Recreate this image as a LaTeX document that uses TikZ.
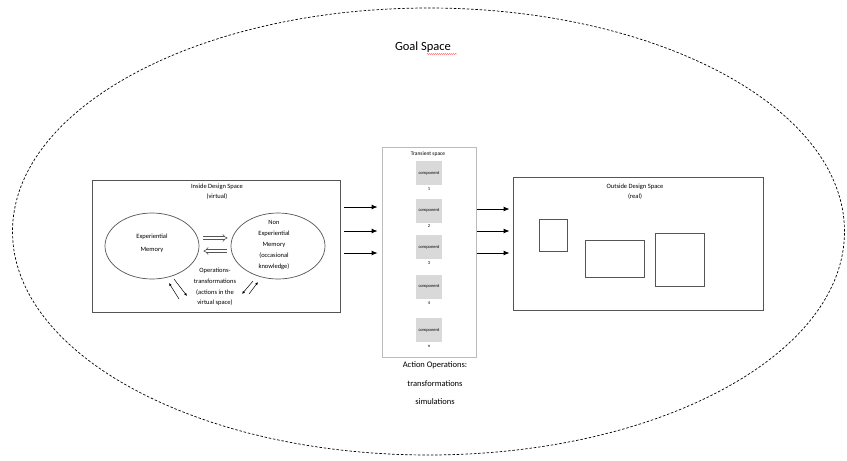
\documentclass[tikz,border=0pt]{standalone}
\usepackage{fontspec}
\setmainfont{Carlito}
\usetikzlibrary{arrows.meta,shapes.geometric,decorations.pathmorphing}
\definecolor{boxline}{HTML}{555555}
\definecolor{lightline}{HTML}{BBBBBB}
\definecolor{compfill}{HTML}{D9D9D9}
\tikzset{
  spacebox/.style={draw=boxline, line width=0.9pt, fill=white},
  memory/.style={draw=boxline, line width=0.7pt, ellipse, minimum width=94pt, minimum height=66pt, inner sep=0pt},
  compbox/.style={fill=compfill, minimum width=26pt, minimum height=24pt, inner sep=0pt, font=\fontsize{4.5}{5}\selectfont},
  compnum/.style={font=\fontsize{4.5}{5}\selectfont, inner sep=0pt},
  bigarrow/.style={line width=0.9pt, -{Latex[length=6pt,width=5pt]}},
  smallarrow/.style={line width=0.5pt, -{Latex[length=3pt,width=2.5pt]}},
  hollow/.style={draw=boxline, double=white, double distance=2pt, line width=0.6pt, -{Implies}},
  label7/.style={font=\fontsize{7}{10.5}\selectfont, align=center, inner sep=0pt},
  realbox/.style={draw=boxline, line width=0.7pt},
}
\begin{document}
\begin{tikzpicture}[x=1pt,y=-1pt]
\useasboundingbox (0,0) rectangle (847,461);
% goal space ellipse
\node[draw, dashed, ellipse, line width=0.7pt, dash pattern=on 2.5pt off 1.8pt, minimum width=832pt, minimum height=447pt] (goal) at (428.5,231.5) {};
\node[font=\fontsize{12.5}{14}\selectfont, inner sep=0pt] (goaltext) at (423,47) {Goal Space};
\draw[red!70, line width=0.4pt, decorate, decoration={snake, amplitude=0.5pt, segment length=2pt}] (427,54) -- (457,54);

% inside design space
\node[spacebox, minimum width=248pt, minimum height=132pt, inner sep=0pt] (inside) at (216,246) {};
\node[label7, font=\fontsize{6.5}{10}\selectfont] (insidetext) at (217,192) {Inside Design Space\\(virtual)};
\node[memory] (exp) at (152,246) {};
\node[label7, font=\fontsize{6.5}{13}\selectfont] (exptext) at (152,243) {Experiential\\Memory};
\node[memory] (nonexp) at (278,246) {};
\node[label7, font=\fontsize{6.5}{11}\selectfont] (nonexptext) at (274,245) {Non\\Experiential\\Memory\\(occasional\\knowledge)};
\draw[hollow] ([xshift=4pt,yshift=8pt]exp.east) -- ([xshift=-3pt,yshift=8pt]nonexp.west);
\draw[hollow] ([xshift=-4pt,yshift=-5pt]nonexp.west) -- ([xshift=4pt,yshift=-5pt]exp.east);
\node[label7, font=\fontsize{6.5}{10.7}\selectfont] (optext) at (215,287) {Operations-\\transformations\\(actions in the\\virtual space)};
\coordinate (la1) at (179,299); \coordinate (la2) at (169,283);
\coordinate (lb1) at (174,279); \coordinate (lb2) at (187,296);
\coordinate (rc1) at (253,281); \coordinate (rc2) at (242,294);
\coordinate (rd1) at (249,294); \coordinate (rd2) at (258,282);
\draw[smallarrow] (la1) -- (la2);
\draw[smallarrow] (lb1) -- (lb2);
\draw[smallarrow] (rc1) -- (rc2);
\draw[smallarrow] (rd1) -- (rd2);

% transient space
\node[draw=lightline, line width=0.8pt, minimum width=94pt, minimum height=210pt, inner sep=0pt] (trans) at (429,252) {};
\node[font=\fontsize{5.5}{6}\selectfont, inner sep=0pt] (transtext) at (428,154) {Transient space};
\node[compbox] (c1) at (429,173) {component};
\node[compnum] (n1) at (429,189) {1};
\node[compbox] (c2) at (429,210.5) {component};
\node[compnum] (n2) at (429,226) {2};
\node[compbox] (c3) at (429,247) {component};
\node[compnum] (n3) at (429,263) {3};
\node[compbox] (c4) at (429,286.5) {component};
\node[compnum] (n4) at (429,303) {4};
\node[compbox] (c5) at (429,330) {component};
\node[compnum] (n5) at (429,346) {n};
\node[font=\fontsize{8.5}{18.5}\selectfont, align=center, inner sep=0pt] (action) at (435,383.5) {Action Operations:\\transformations\\simulations};

% outside design space
\node[spacebox, minimum width=250pt, minimum height=133pt, inner sep=0pt] (outside) at (638,243.5) {};
\node[label7, font=\fontsize{6.5}{10}\selectfont] (outsidetext) at (635,192) {Outside Design Space\\(real)};
\node[realbox, minimum width=28pt, minimum height=32pt, inner sep=0pt] (r1) at (553,235) {};
\node[realbox, minimum width=59pt, minimum height=37pt, inner sep=0pt] (r2) at (614.5,258.5) {};
\node[realbox, minimum width=49pt, minimum height=53pt, inner sep=0pt] (r3) at (679.5,259.5) {};

% arrows inside -> transient
\draw[bigarrow] ([xshift=4pt,yshift=39pt]inside.east) -- ([xshift=-4pt,yshift=45pt]trans.west);
\draw[bigarrow] ([xshift=4pt,yshift=15pt]inside.east) -- ([xshift=-4pt,yshift=21pt]trans.west);
\draw[bigarrow] ([xshift=4pt,yshift=-7pt]inside.east) -- ([xshift=-4pt,yshift=-1pt]trans.west);
% arrows transient -> outside
\draw[bigarrow] ([xshift=1pt,yshift=43pt]trans.east) -- ([xshift=-3pt,yshift=34.5pt]outside.west);
\draw[bigarrow] ([xshift=1pt,yshift=21pt]trans.east) -- ([xshift=-3pt,yshift=12.5pt]outside.west);
\draw[bigarrow] ([xshift=1pt,yshift=-1pt]trans.east) -- ([xshift=-3pt,yshift=-9.5pt]outside.west);
\end{tikzpicture}
\end{document}
